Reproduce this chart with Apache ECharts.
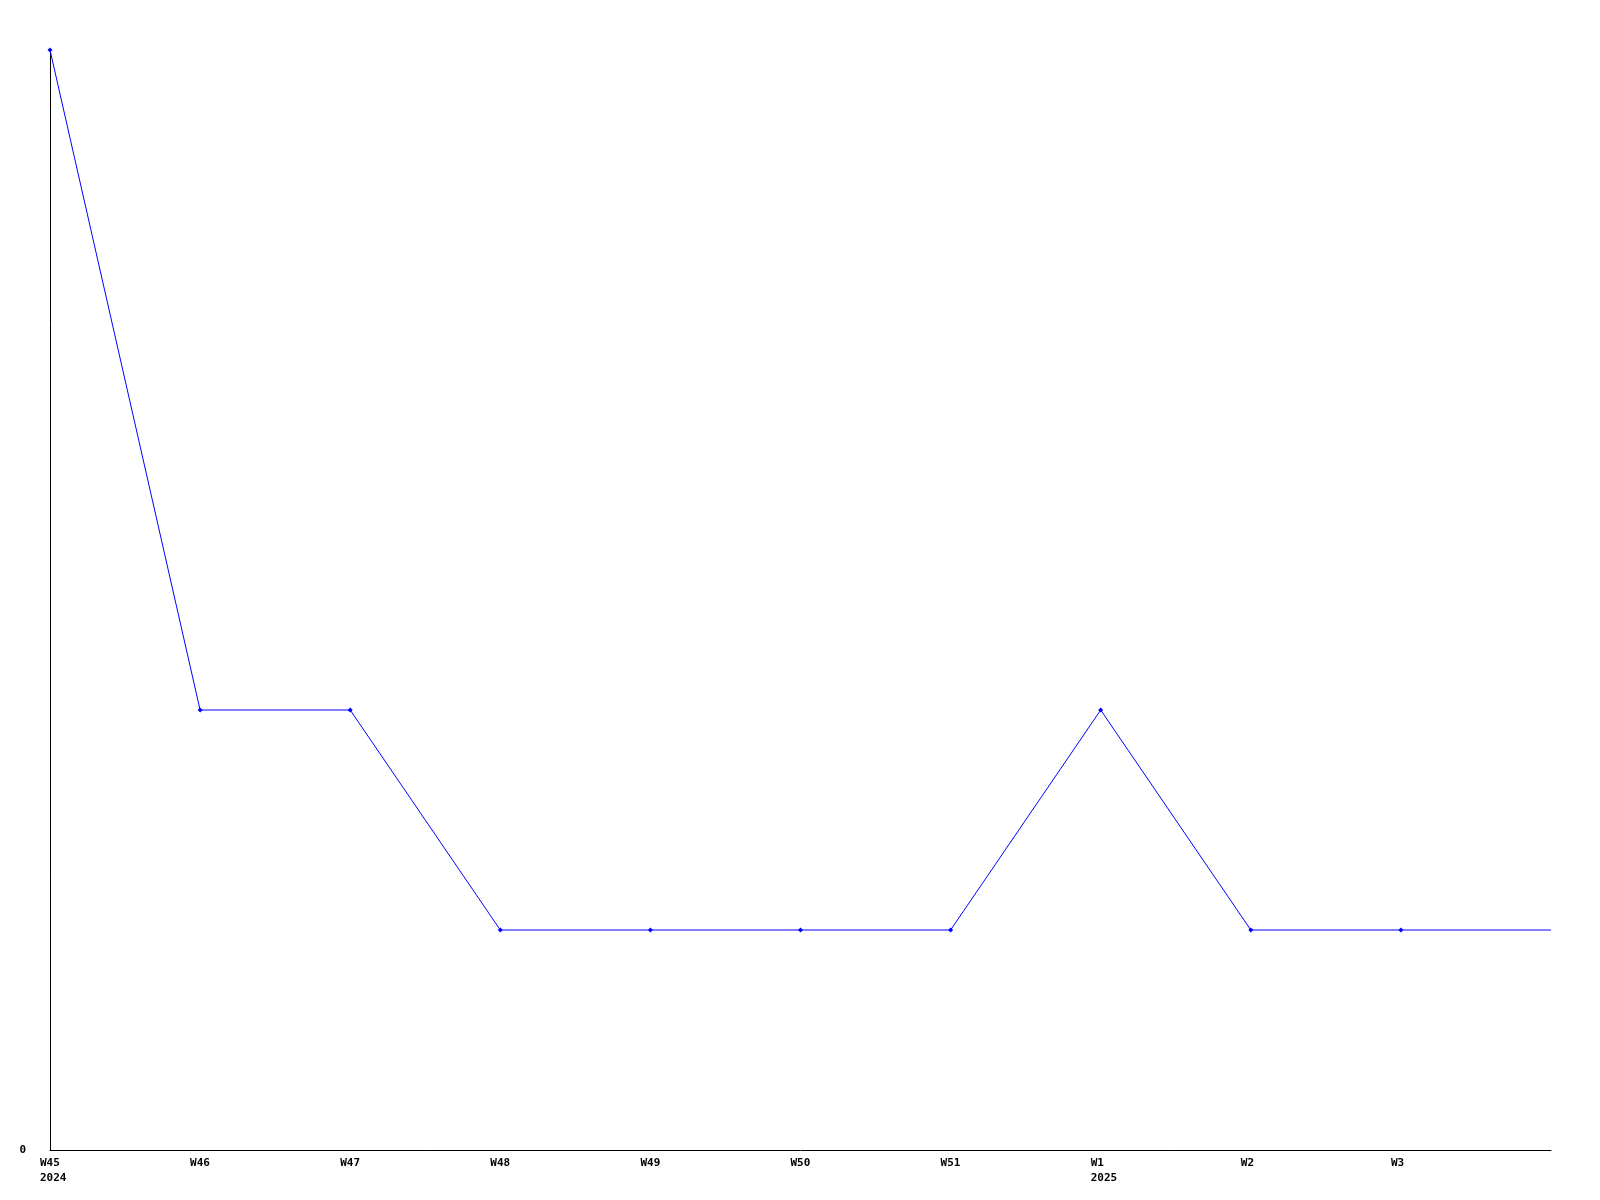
<!DOCTYPE html>
<html><head><meta charset="utf-8">
<script src="https://cdn.jsdelivr.net/npm/echarts@6/dist/echarts.min.js"></script>
<style>html,body{margin:0;padding:0;background:#fff}#c{width:1600px;height:1200px}</style>
</head><body><div id="c"></div>
<script>
const weeks = ['W45', 'W46', 'W47', 'W48', 'W49', 'W50', 'W51', 'W1', 'W2', 'W3', ''];
const years = ['2024', '', '', '', '', '', '', '2025', '', '', ''];
const values = [5, 2, 2, 1, 1, 1, 1, 2, 1, 1, 1];
const yTicks = [0];

const categories = weeks.map((w, i) => years[i] ? w + '\n' + years[i] : w);
const chart = echarts.init(document.getElementById('c'), null, {renderer: 'canvas'});
chart.setOption({
  animation: false,
  backgroundColor: '#ffffff',
  grid: {left: 50, right: 49, top: 50, bottom: 50, containLabel: false},
  xAxis: {
    type: 'category', data: categories, boundaryGap: false,
    axisLine: {lineStyle: {color: '#000', width: 1}},
    axisTick: {show: false},
    splitLine: {show: false},
    axisLabel: {
      interval: 0, align: 'left', margin: 6, padding: [0, 0, 0, -10],
      fontFamily: 'DejaVu Sans Mono', fontWeight: 'bold', fontSize: 11,
      lineHeight: 15, color: '#000'
    }
  },
  yAxis: {
    type: 'value', min: 0, max: 5, interval: 5,
    axisLine: {show: true, lineStyle: {color: '#000', width: 1}},
    axisTick: {show: false},
    splitLine: {show: false},
    axisLabel: {
      margin: 24, fontFamily: 'DejaVu Sans Mono', fontWeight: 'bold', fontSize: 11, color: '#000',
      formatter: v => yTicks.includes(v) ? String(v) : ''
    }
  },
  series: [{
    type: 'line',
    data: values.map((v, i) => ({value: v, symbolSize: weeks[i] ? 5 : 0})),
    symbol: 'diamond',
    showAllSymbol: true,
    lineStyle: {color: '#0000ff', width: 1},
    itemStyle: {color: '#0000ff'}
  }]
});
</script></body></html>
